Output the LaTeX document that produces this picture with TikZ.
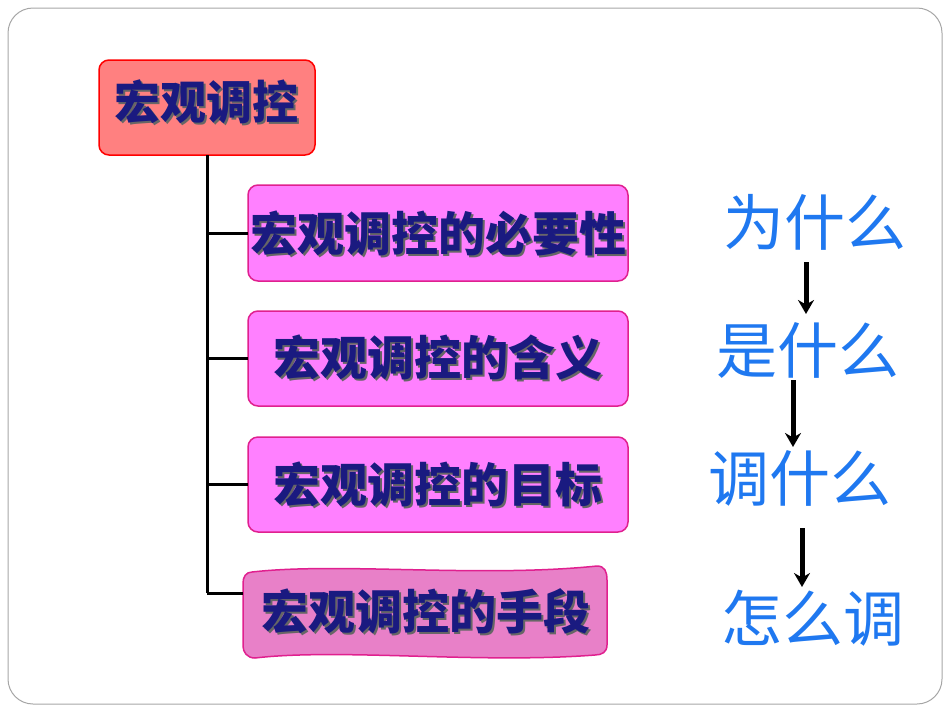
\documentclass[tikz,border=0pt]{standalone}
\usepackage{fontspec}
\newfontfamily\cjk{Noto Sans CJK SC}
\begin{document}
\begin{tikzpicture}[x=1pt,y=-1pt,
  lbl/.style={font=\cjk\bfseries\fontsize{47}{49}\selectfont,text=navy},
  pbox/.style={draw=magentab,line width=1.5pt,fill=pinkf,rounded corners=10pt},
  rtxt/.style={font=\cjk\fontsize{61}{63}\selectfont,text=bluet},
  arr/.style={line width=5pt,-{Stealth[length=14pt,width=16pt]}},
  br/.style={line width=3pt}]
\definecolor{navy}{HTML}{1A1A80}
\definecolor{magentab}{HTML}{E0208F}
\definecolor{pinkf}{HTML}{FF80FF}
\definecolor{bluet}{HTML}{1F78F0}
\usetikzlibrary{arrows.meta}
\useasboundingbox (0,0) rectangle (950,713);
\draw[gray!70,line width=1pt,rounded corners=25pt] (8,8) rectangle (942,704);
% top
\draw[draw=red,line width=1.5pt,fill={rgb,255:red,255;green,128;blue,128},rounded corners=10pt] (99,60) rectangle (315,155);
\node[lbl,text=black!60,font=\cjk\bfseries\fontsize{46}{48}\selectfont] at (208,104) {宏观调控};
\node[lbl,font=\cjk\bfseries\fontsize{46}{48}\selectfont] (top) at (206,102) {宏观调控};
\coordinate (t) at (207,155);
\coordinate (b) at (207,593);
\draw[br] (t) -- (b);
% boxes
\draw[pbox] (248,185) rectangle (628,281);
\draw[pbox] (248,311) rectangle (628,406);
\draw[pbox] (248,437) rectangle (628,532);
\draw[draw=magentab,line width=1.5pt,fill={rgb,255:red,232;green,128;blue,200}]
  (252,572) .. controls (340,562) and (480,578) .. (597,566)
  .. controls (605,566) and (607,572) .. (607,580) -- (607,645)
  .. controls (607,652) and (602,655) .. (595,655)
  .. controls (480,664) and (340,648) .. (255,658)
  .. controls (247,658) and (243,652) .. (243,646) -- (243,583)
  .. controls (243,577) and (246,572) .. (252,572) -- cycle;
\foreach \y/\xx/\t/\n in {233/438/宏观调控的必要性/n1,358/438/宏观调控的含义/n2,484/438/宏观调控的目标/n3,611/426/宏观调控的手段/n4}{
  \node[lbl,text=black!60] at (\xx+2,\y+2) {\t};
  \node[lbl] (\n) at (\xx,\y) {\t};
}
\coordinate (c1) at (207,233);\coordinate (c2) at (207,358);\coordinate (c3) at (207,484);
\draw[br] (c1) -- (248,233);
\draw[br] (c2) -- (248,358);
\draw[br] (c3) -- (248,484);
\draw[br] (b) -- (243,593);
% right
\node[rtxt] (r1) at (815,222) {为什么};
\node[rtxt] (r2) at (808,350) {是什么};
\node[rtxt] (r3) at (800,478) {调什么};
\node[rtxt] (r4) at (813,618) {怎么调};
\coordinate (a1) at (806,262);\coordinate (a1e) at (806,314);
\coordinate (a2) at (793,380);\coordinate (a2e) at (793,447);
\coordinate (a3) at (802,528);\coordinate (a3e) at (802,587);
\draw[arr] (a1) -- (a1e);
\draw[arr] (a2) -- (a2e);
\draw[arr] (a3) -- (a3e);
\end{tikzpicture}
\end{document}
